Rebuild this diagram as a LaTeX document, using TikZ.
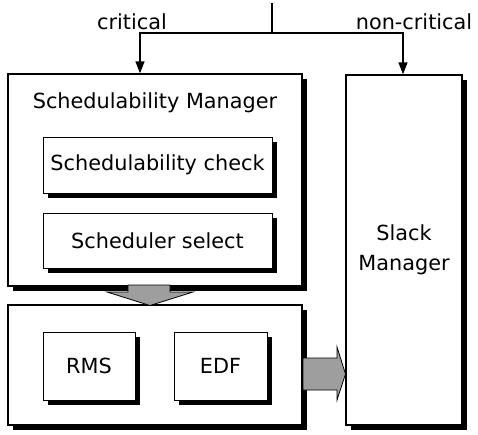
\documentclass[tikz,border=0pt]{standalone}
\usepackage{fontspec}
\setmainfont{DejaVu Sans}
\usetikzlibrary{arrows.meta,shadows}
\begin{document}
\begin{tikzpicture}[x=1pt,y=-1pt,
  every node/.style={font=\fontsize{20.8}{30}\selectfont},
  outerbox/.style={draw,line width=1.4pt,fill=white,inner sep=0pt,
    drop shadow={shadow xshift=5pt,shadow yshift=-5pt,fill=black,opacity=1}},
  innerbox/.style={draw,line width=0.8pt,fill=white,inner sep=0pt,
    drop shadow={shadow xshift=5pt,shadow yshift=-5pt,fill=black,opacity=1}},
  flow/.style={line width=1.4pt,-{Triangle[width=9pt,length=12pt]}},
  bigarrow/.style={draw,line width=0.8pt,fill=black!38}]
\useasboundingbox (0,0) rectangle (478,434);

% main components
\node[outerbox,minimum width=294pt,minimum height=212pt] (sm) at (155,180) {};
\node[outerbox,minimum width=294pt,minimum height=120pt] (exec) at (155,365) {};
\node[outerbox,minimum width=116pt,minimum height=350pt,align=center] (slack) at (404,250) {Slack\\Manager};

\node[anchor=base] (smtitle) at (155,108) {Schedulability Manager};
\node[innerbox,minimum width=229pt,minimum height=56pt] (check) at (157.5,165) {Schedulability check};
\node[innerbox,minimum width=229pt,minimum height=55pt] (select) at (157.5,240.5) {Scheduler select};
\node[innerbox,minimum width=92pt,minimum height=68pt] (rms) at (89,366) {RMS};
\node[innerbox,minimum width=93pt,minimum height=68pt] (edf) at (220.5,366) {EDF};

% incoming task stream, split by criticality
\coordinate (src) at (272,3);
\coordinate (fork) at (272,33);
\draw[line width=1.4pt] (src) -- (fork);
\draw[flow] (fork) -| ([xshift=-15pt]sm.north);
\draw[flow] (fork) -| ([xshift=-1pt]slack.north);
\node[anchor=base] (crit) at (132,29) {critical};
\node[anchor=base] (noncrit) at (414,29) {non-critical};

% selection passed down to the schedulers
\draw[bigarrow] (128,285) -- (170,285) -- (170,292) -- (193,292)
  -- (150,305.5) -- (107,292) -- (128,292) -- cycle;

% schedulers exchange with the slack manager
\draw[bigarrow] (303,358) -- (337,358) -- (337,347) -- (345.5,374)
  -- (337,400) -- (337,390) -- (303,390) -- cycle;
\end{tikzpicture}
\end{document}
